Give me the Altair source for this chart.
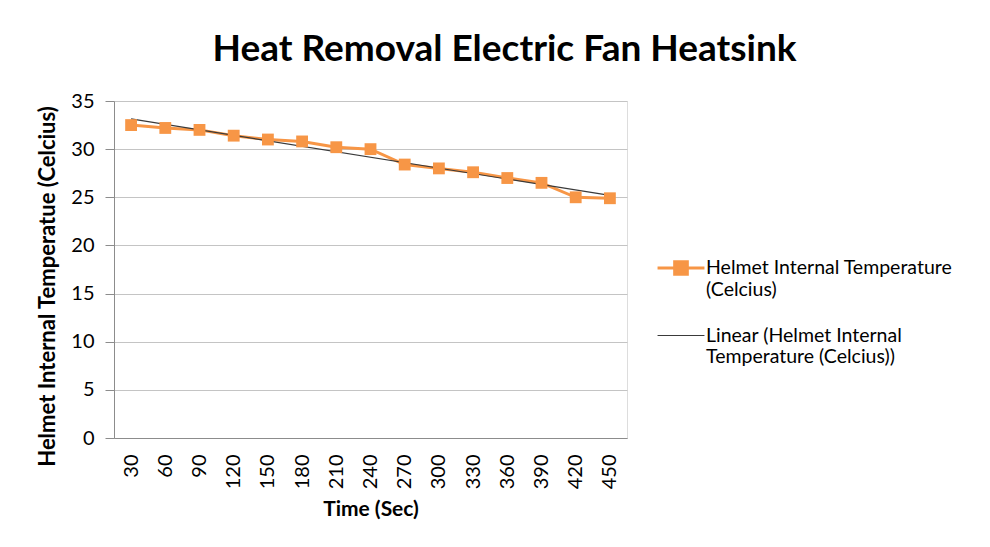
import altair as alt
import pandas as pd

times = [30, 60, 90, 120, 150, 180, 210, 240, 270, 300, 330, 360, 390, 420, 450]
temps = [32.5, 32.2, 32.0, 31.4, 31.0, 30.8, 30.2, 30.0, 28.4, 28.0, 27.6, 27.0, 26.5, 25.0, 24.9]
series_names = ["Helmet Internal Temperature (Celcius)",
                "Linear (Helmet Internal Temperature (Celcius))"]
y_ticks = [0, 5, 10, 15, 20, 25, 30, 35]

ORANGE = "#F79646"
TREND = "#3a3a3a"
FONT = "Lato"

df = pd.DataFrame({"t": times, "temp": temps})
legend_df = pd.DataFrame({"series": series_names})

x_enc = alt.X("t:Q",
              scale=alt.Scale(domain=[15, 465], nice=False, zero=False),
              axis=alt.Axis(values=times, title="Time (Sec)", grid=False, ticks=False,
                            labelAngle=-90, labelAlign="right", labelBaseline="middle",
                            labelPadding=16, titlePadding=10, labelFontSize=20,
                            titleFontSize=21, titleFontWeight="bold",
                            domainColor="#8c8c8c", labelFont=FONT, titleFont=FONT,
                            labelColor="black", titleColor="black"))
y_enc = alt.Y("temp:Q",
              scale=alt.Scale(domain=[0, 35], nice=False),
              axis=alt.Axis(values=y_ticks, title="Helmet Internal Temperatue (Celcius)",
                            grid=True, gridColor="#c4c4c4", tickColor="#8c8c8c", tickSize=9,
                            domainColor="#8c8c8c", labelPadding=11, labelFontSize=20,
                            titleFontSize=22, titleFontWeight="bold", titlePadding=11,
                            titleY=185,
                            labelFont=FONT, titleFont=FONT,
                            labelColor="black", titleColor="black"))

base = alt.Chart(df)

line = base.mark_line(color=ORANGE, strokeWidth=3).encode(x=x_enc, y=y_enc)
pts = base.mark_square(color=ORANGE, size=140, opacity=1).encode(x=x_enc, y=y_enc)
trend = base.transform_regression("t", "temp").mark_line(
    color=TREND, strokeWidth=1.2).encode(x=x_enc, y=y_enc)

sym1 = "M-1,0H1M-0.27,-0.27H0.27V0.27H-0.27Z"
sym2 = "M-1,0H1"

leg = alt.Legend(orient="none", legendX=542, legendY=142, title=None,
                 labelFont=FONT, labelFontSize=19.5, labelColor="black", labelLimit=400,
                 symbolSize=2200, labelOffset=0, rowPadding=12,
                 labelExpr="datum.label == '" + series_names[0] + "' ? "
                           "['Helmet Internal Temperature', '(Celcius)'] : "
                           "['Linear (Helmet Internal', 'Temperature (Celcius))']")

legend_layer = alt.Chart(legend_df).transform_filter("false").mark_point(
    filled=True, size=2200, opacity=1).encode(
    color=alt.Color("series:N", scale=alt.Scale(domain=series_names, range=[ORANGE, TREND]),
                    legend=leg),
    stroke=alt.Stroke("series:N", scale=alt.Scale(domain=series_names, range=[ORANGE, TREND]),
                      legend=leg),
    strokeWidth=alt.StrokeWidth("series:N", scale=alt.Scale(domain=series_names, range=[3, 1.2]),
                                legend=leg),
    shape=alt.Shape("series:N", scale=alt.Scale(domain=series_names, range=[sym1, sym2]),
                    legend=leg),
)

chart = alt.layer(line, trend, pts, legend_layer).properties(
    width=513, height=337,
    title=alt.TitleParams("Heat Removal Electric Fan Heatsink", font=FONT, fontSize=37,
                          fontWeight="bold", color="black", anchor="middle",
                          frame="group", dx=134, offset=22),
    autosize=alt.AutoSizeParams(type="none"),
    padding={"left": 106, "top": 93, "right": 350, "bottom": 95},
).configure_view(stroke=None).configure(background="white")

chart.save("out.html", embed_options={"renderer": "svg", "actions": False})
